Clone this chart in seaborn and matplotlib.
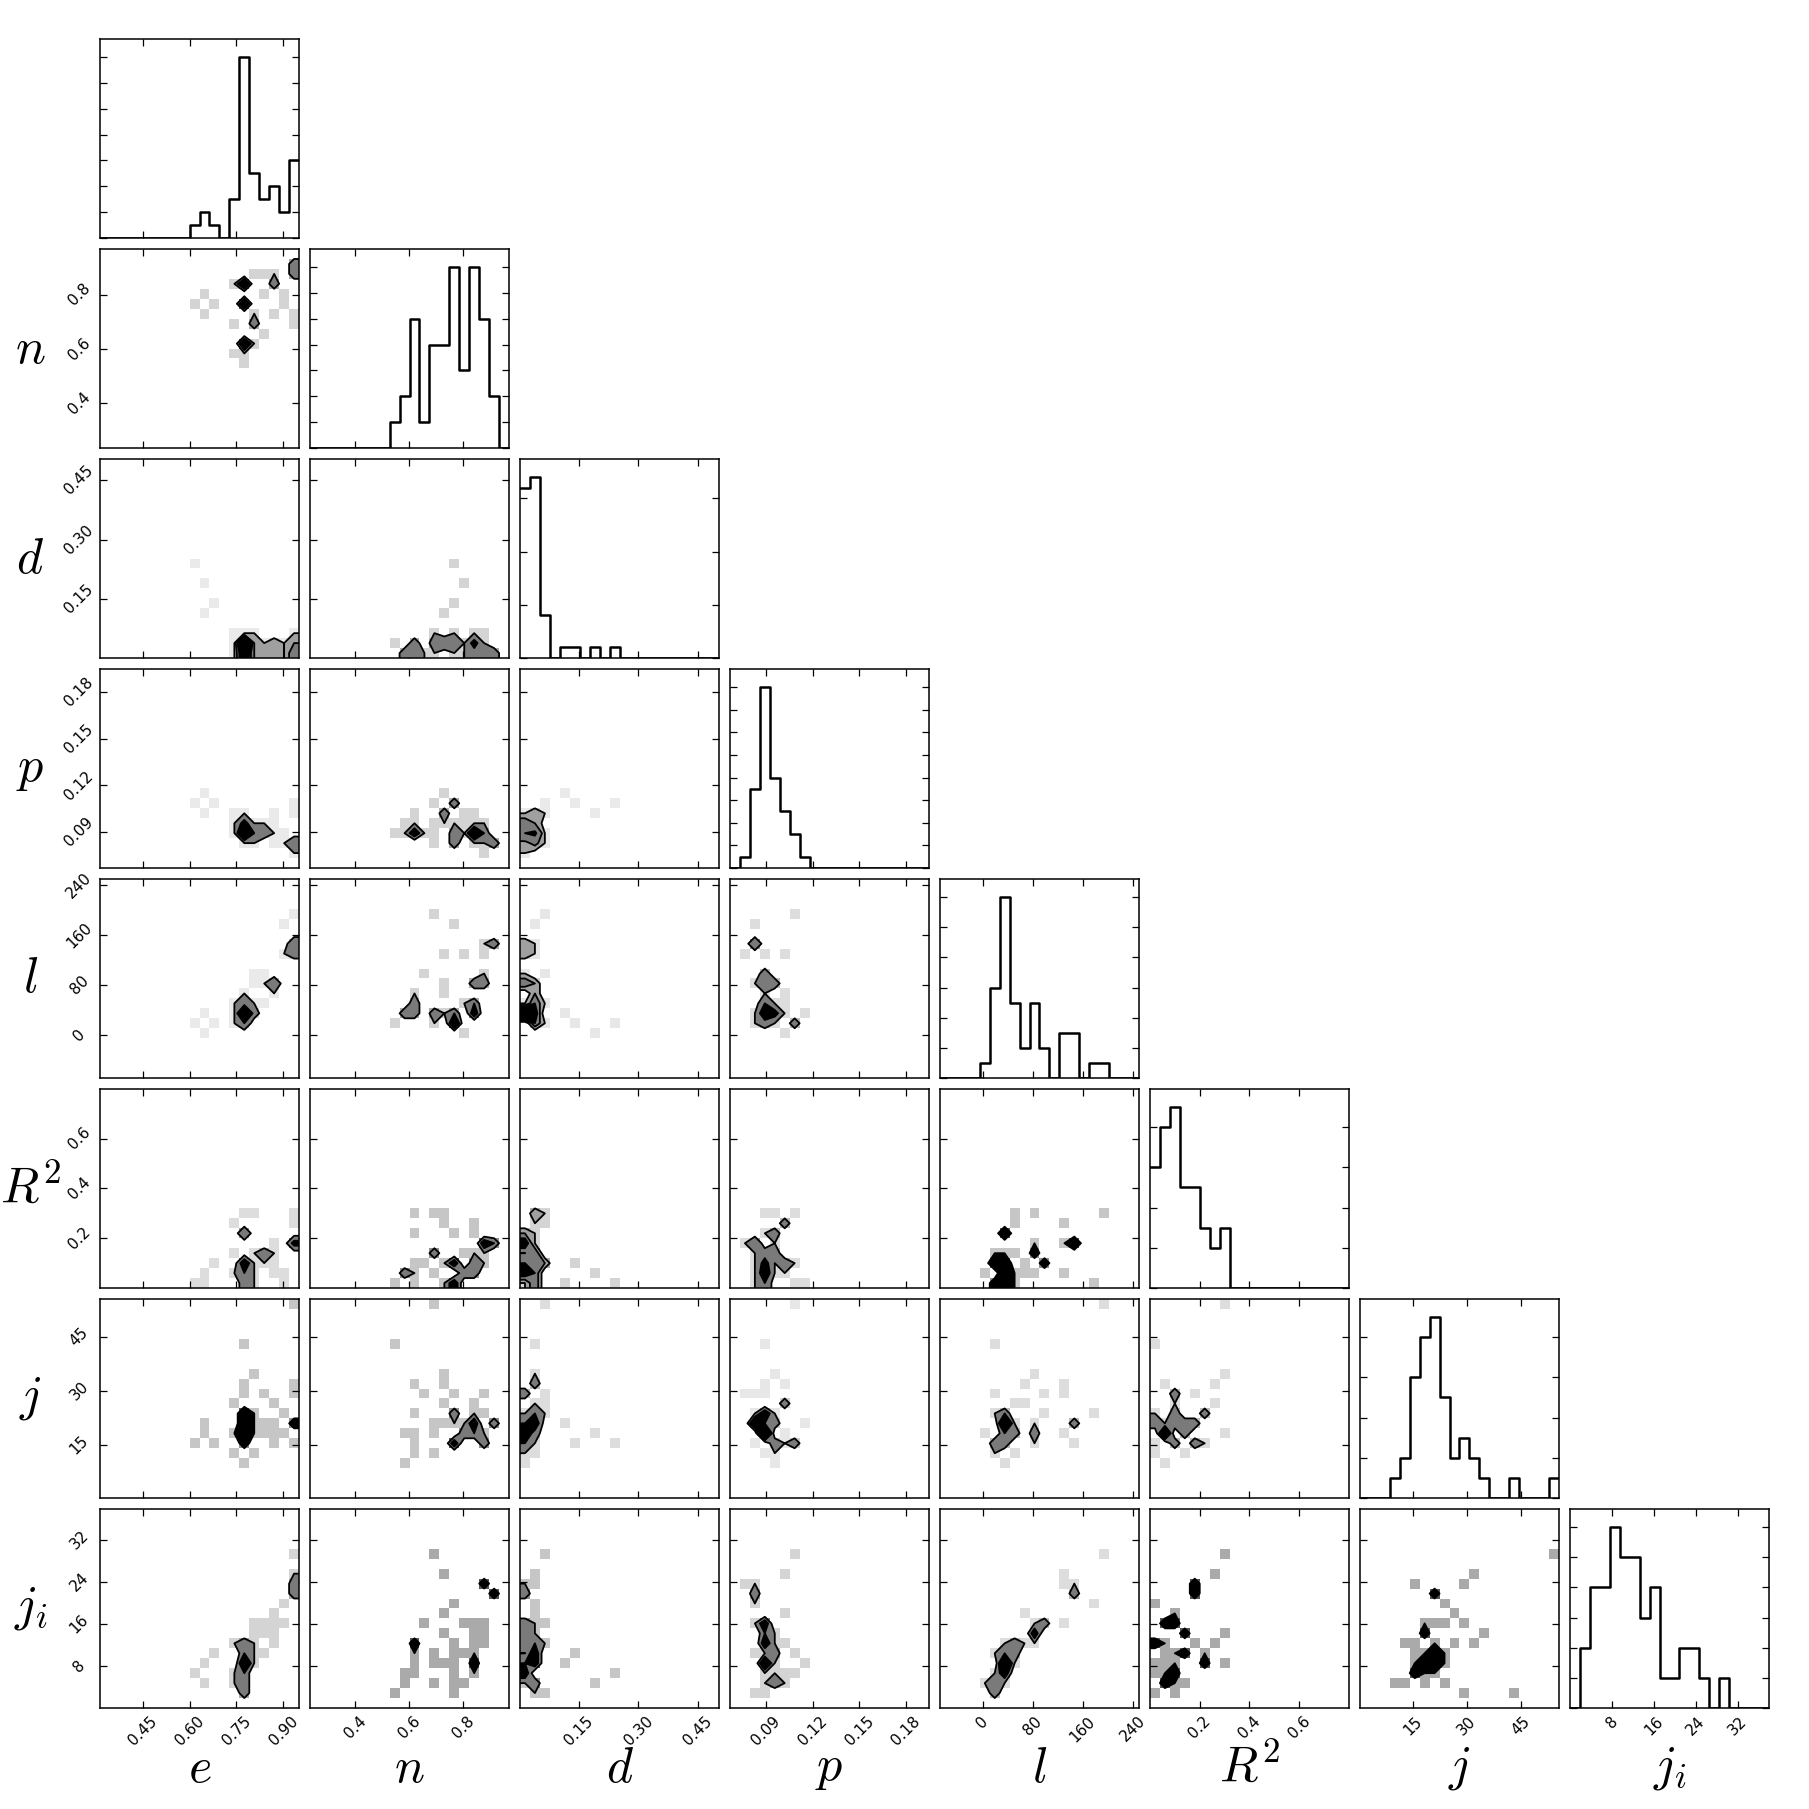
import numpy as np
import matplotlib
matplotlib.use("Agg")
import matplotlib.pyplot as plt
from matplotlib.colors import LinearSegmentedColormap
from matplotlib.ticker import MultipleLocator
import seaborn as sns

# ---------------- data (41 samples) ----------------
labels = [r"$e$", r"$n$", r"$d$", r"$p$", r"$l$", r"$R^2$", r"$j$", r"$j_i$"]

e_vals = [0.616, 0.648, 0.648, 0.680, 0.743, 0.743, 0.743,
          0.775, 0.775, 0.775, 0.775, 0.775, 0.775, 0.775, 0.775, 0.775, 0.775, 0.775, 0.775, 0.775, 0.775,
          0.807, 0.807, 0.807, 0.807, 0.807, 0.839, 0.839, 0.839,
          0.871, 0.871, 0.871, 0.871, 0.902, 0.902,
          0.934, 0.934, 0.934, 0.934, 0.934, 0.934]
n_vals = [0.767, 0.803, 0.730, 0.767, 0.693, 0.583, 0.840,
          0.840, 0.840, 0.840, 0.840, 0.767, 0.767, 0.767, 0.767, 0.620, 0.620, 0.620, 0.620, 0.546, 0.583,
          0.693, 0.693, 0.620, 0.730, 0.877, 0.877, 0.803, 0.656,
          0.840, 0.840, 0.877, 0.730, 0.803, 0.767,
          0.914, 0.914, 0.877, 0.877, 0.730, 0.693]
d_vals = [0.239, 0.189, 0.113, 0.139, 0.0378, 0.0126, 0.063,
          0.0378, 0.0378, 0.0126, 0.0378, 0.0378, 0.0126, 0.0378, 0.063, 0.0378, 0.0126, 0.0378, 0.0126, 0.0378, 0.0126,
          0.0126, 0.0378, 0.0126, 0.0378, 0.063, 0.0126, 0.0378, 0.0126,
          0.0126, 0.0378, 0.0126, 0.0378, 0.0126, 0.0378,
          0.0126, 0.0126, 0.0378, 0.0126, 0.0378, 0.063]
p_vals = [0.1085, 0.1021, 0.1149, 0.1085, 0.0957, 0.0893, 0.1021,
          0.0893, 0.0893, 0.0957, 0.0893, 0.0893, 0.0957, 0.0893, 0.0829, 0.0893, 0.0957, 0.0893, 0.1021, 0.0893, 0.0957,
          0.0893, 0.0829, 0.0893, 0.0957, 0.0893, 0.0893, 0.0957, 0.0893,
          0.0893, 0.0829, 0.0957, 0.1021, 0.0893, 0.0829,
          0.0829, 0.0829, 0.0829, 0.0765, 0.1021, 0.1085]
l_vals = [19.5, 3.6, 35.4, 19.5, 19.5, 35.4, 51.3,
          35.4, 35.4, 35.4, 51.3, 19.5, 35.4, 35.4, 19.5, 51.3, 35.4, 67.2, 35.4, 19.5, 35.4,
          35.4, 35.4, 51.3, 83.1, 99.0, 83.1, 51.3, 99.0,
          83.1, 83.1, 83.1, 67.2, 130.8, 178.5,
          146.7, 146.7, 146.7, 130.8, 130.8, 194.4]
r2_vals = [0.02, 0.06, 0.02, 0.10, 0.14, 0.06, 0.26,
           0.10, 0.22, 0.10, 0.06, 0.10, 0.22, 0.02, 0.10, 0.30, 0.22, 0.06, 0.10, 0.02, 0.06,
           0.06, 0.14, 0.02, 0.30, 0.10, 0.14, 0.14, 0.10,
           0.14, 0.06, 0.18, 0.10, 0.06, 0.02,
           0.18, 0.18, 0.18, 0.18, 0.26, 0.30]
j_vals = [15.58, 18.34, 21.10, 15.58, 12.82, 18.34, 26.62,
          21.10, 23.86, 21.10, 18.34, 23.86, 15.58, 21.10, 29.38, 18.34, 23.86, 32.14, 15.58, 43.18, 10.06,
          18.34, 21.10, 12.82, 34.90, 23.86, 18.34, 21.10, 29.38,
          18.34, 21.10, 15.58, 26.62, 18.34, 23.86,
          21.10, 21.10, 15.58, 29.38, 32.14, 54.22]
ji_vals = [6.65, 4.75, 8.55, 10.45, 4.75, 6.65, 12.35,
           8.55, 8.55, 6.65, 10.45, 4.75, 8.55, 12.35, 2.85, 8.55, 10.45, 12.35, 6.65, 2.85, 4.75,
           8.55, 10.45, 12.35, 14.25, 16.15, 14.25, 10.45, 16.15,
           14.25, 16.15, 12.35, 18.05, 16.15, 19.95,
           21.85, 21.85, 23.75, 23.75, 25.65, 29.45]

ranges = [(0.314, 0.950), (0.234, 0.969), (0.0, 0.504), (0.0669, 0.1948),
          (-68.0, 250.0), (0.0, 0.80), (0.4, 55.6), (0.0, 38.0)]
tick_vals = [[0.45, 0.60, 0.75, 0.90], [0.4, 0.6, 0.8], [0.15, 0.30, 0.45],
             [0.09, 0.12, 0.15, 0.18], [0, 80, 160, 240], [0.2, 0.4, 0.6],
             [15, 30, 45], [8, 16, 24, 32]]
tick_text = [["0.45", "0.60", "0.75", "0.90"], ["0.4", "0.6", "0.8"], ["0.15", "0.30", "0.45"],
             ["0.09", "0.12", "0.15", "0.18"], ["0", "80", "160", "240"], ["0.2", "0.4", "0.6"],
             ["15", "30", "45"], ["8", "16", "24", "32"]]
diag_count_step = [2, 1, 5, 2, 2, 2, 2, 1]

data = [np.array(v, dtype=float) for v in
        (e_vals, n_vals, d_vals, p_vals, l_vals, r2_vals, j_vals, ji_vals)]
K = len(data)
NB = 20

# ---------------- style ----------------
plt.rcParams.update({
    "mathtext.fontset": "cm",
    "font.family": ["DejaVu Sans"],
    "axes.linewidth": 1.1,
    "xtick.direction": "in", "ytick.direction": "in",
    "xtick.top": True, "ytick.right": True,
    "xtick.major.size": 5, "ytick.major.size": 5,
    "xtick.major.width": 0.9, "ytick.major.width": 0.9,
    "xtick.labelsize": 11, "ytick.labelsize": 11,
})

gray_cmap = LinearSegmentedColormap.from_list("wg", ["#ffffff", "#555555"])
fill_cols = ["#cfcfcf", "#a0a0a0", "#7a7a7a", "#000000"]

fig, axes = plt.subplots(K, K, figsize=(18.09, 18.09), dpi=100)
fig.subplots_adjust(left=100 / 1809, right=1769 / 1809, bottom=1 - 1708 / 1809,
                    top=1 - 39 / 1809, wspace=0.055, hspace=0.055)


def contour_levels(H):
    lv = 1.0 - np.exp(-0.5 * np.arange(0.5, 2.1, 0.5) ** 2)
    Hf = np.sort(H.flatten())[::-1]
    sm = np.cumsum(Hf)
    sm /= sm[-1]
    V = []
    for v0 in lv:
        sel = Hf[sm <= v0]
        V.append(sel[-1] if len(sel) else Hf[0])
    V = np.unique(np.array(V))
    return V


def draw2d(ax, x, y, xr, yr):
    H, xe, ye = np.histogram2d(x, y, bins=NB, range=[xr, yr])
    sns.histplot(x=x, y=y, bins=NB, binrange=(xr, yr), cmap=gray_cmap,
                 vmin=0, vmax=H.max(), ax=ax)
    V = contour_levels(H)
    V = V[V < H.max()] if np.any(V < H.max()) else V
    if len(V) == 0:
        return
    xc = 0.5 * (xe[1:] + xe[:-1])
    yc = 0.5 * (ye[1:] + ye[:-1])
    dx, dy = xc[1] - xc[0], yc[1] - yc[0]
    H2 = np.zeros((NB + 4, NB + 4))
    H2[2:-2, 2:-2] = H
    H2[2:-2, 1] = H[:, 0]
    H2[2:-2, -2] = H[:, -1]
    H2[1, 2:-2] = H[0]
    H2[-2, 2:-2] = H[-1]
    H2[1, 1] = H[0, 0]
    H2[1, -2] = H[0, -1]
    H2[-2, 1] = H[-1, 0]
    H2[-2, -2] = H[-1, -1]
    X2 = np.concatenate([xc[0] + np.array([-2, -1]) * dx, xc, xc[-1] + np.array([1, 2]) * dx])
    Y2 = np.concatenate([yc[0] + np.array([-2, -1]) * dy, yc, yc[-1] + np.array([1, 2]) * dy])
    lev = np.concatenate([V, [H.max() * 1.0001]])
    cols = fill_cols[-(len(lev) - 1):]
    ax.contourf(X2, Y2, H2.T, lev, colors=cols, antialiased=True, zorder=2)
    ax.contour(X2, Y2, H2.T, V, colors="k", linewidths=1.3, zorder=3)


for i in range(K):
    for j in range(K):
        ax = axes[i, j]
        if j > i:
            ax.axis("off")
            continue
        if i == j:
            x = data[i]
            counts, _ = np.histogram(x, bins=NB, range=ranges[i])
            sns.histplot(x=x, bins=NB, binrange=ranges[i], element="step", fill=False,
                         color="k", linewidth=1.8, ax=ax)
            ax.set_xlim(ranges[i])
            ax.set_ylim(0, 1.1 * counts.max())
            ax.yaxis.set_major_locator(MultipleLocator(diag_count_step[i]))
            ax.set_yticklabels([])
            ax.set_ylabel("")
        else:
            draw2d(ax, data[j], data[i], ranges[j], ranges[i])
            ax.set_xlim(ranges[j])
            ax.set_ylim(ranges[i])
            ax.set_yticks(tick_vals[i])
            if j == 0:
                ax.set_yticklabels(tick_text[i], rotation=45, va="center", ha="center")
                ax.tick_params(axis="y", pad=15)
                ax.set_ylabel(labels[i], fontsize=36, rotation=0, va="center", ha="center")
                ax.yaxis.set_label_coords(-0.35, 0.5)
            else:
                ax.set_yticklabels([])
                ax.set_ylabel("")
        ax.set_xticks(tick_vals[j])
        if i == K - 1:
            ax.set_xticklabels(tick_text[j], rotation=45, ha="center", va="top")
            ax.tick_params(axis="x", pad=4)
            ax.set_xlabel(labels[j], fontsize=36, va="center", ha="center")
            ax.xaxis.set_label_coords(0.5, -0.3)
        else:
            ax.set_xticklabels([])
            ax.set_xlabel("")
        for s in ax.spines.values():
            s.set_color("k")

fig.savefig("out.png", dpi=100, facecolor="white")
